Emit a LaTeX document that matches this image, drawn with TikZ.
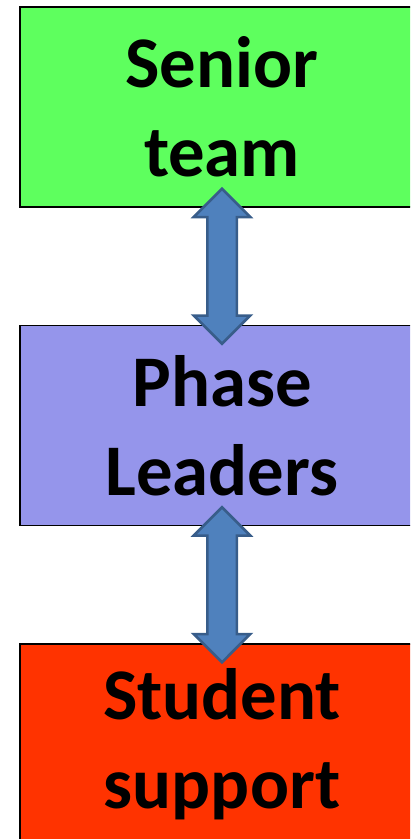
\documentclass[tikz,border=0pt]{standalone}
\usepackage{fontspec}
\setmainfont{Carlito}
\usetikzlibrary{positioning,calc,shapes.arrows}
\definecolor{seniorgreen}{RGB}{94,255,94}
\definecolor{phaseblue}{RGB}{149,149,235}
\definecolor{studentred}{RGB}{255,51,0}
\definecolor{linkfill}{RGB}{79,129,189}
\definecolor{linkdraw}{RGB}{56,93,138}

\begin{document}
\begin{tikzpicture}
        [
            x = 1bp, y = -1bp,
            level/.style = {draw = black, line width = 1.5bp, minimum width = 404bp, minimum height = 200bp,
                inner sep = 0pt, align = center, font = \fontsize{73}{89}\selectfont\bfseries},
            updown/.style = {double arrow, rotate = 90, fill = linkfill, draw = linkdraw, line width = 2.5bp,
                minimum height = 155bp, inner sep = 13.5bp, double arrow head extend = 13.5bp}
        ]

        \useasboundingbox (0,0) rectangle (410,839);
        \clip (0,0) rectangle (410,839);

        \node [level, fill = seniorgreen] (senior) at (222,107) {Senior\\team};
        \node [level, fill = phaseblue, below = 117bp of senior] (phase) {Phase\\Leaders};
        \node [level, fill = studentred, below = 117bp of phase] (student) {Student\\support};

        \node [updown] (link1) at ($(senior.south)!.5!(phase.north)$) {};
        \node [updown] (link2) at ($(phase.south)!.5!(student.north)$) {};
    \end{tikzpicture}
\end{document}
